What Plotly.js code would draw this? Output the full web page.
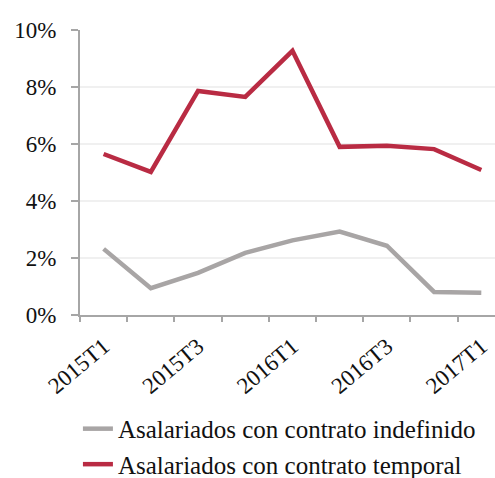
<!DOCTYPE html>
<html>
<head>
<meta charset="utf-8">
<script src="https://cdn.plot.ly/plotly-3.0.1.min.js"></script>
<style>html,body{margin:0;padding:0;background:#fff;}#chart{width:495px;height:478px;}</style>
</head>
<body>
<div id="chart"></div>
<script>
const categories = ["2015T1","2015T2","2015T3","2015T4","2016T1","2016T2","2016T3","2016T4","2017T1"];
const tickLabels = ["2015T1","2015T3","2016T1","2016T3","2017T1"];
const indefinido = [2.32, 0.94, 1.48, 2.18, 2.62, 2.93, 2.43, 0.81, 0.78];
const temporal = [5.65, 5.02, 7.86, 7.65, 9.27, 5.9, 5.94, 5.82, 5.09];
const seriesNames = ["Asalariados con contrato indefinido", "Asalariados con contrato temporal"];

const boundaries = categories.map((c, i) => i - 0.5).concat([categories.length - 0.5]);
const xRange = [-0.5, 8.29];
const font = {family: "'Liberation Serif', 'DejaVu Serif', serif", color: "#111111"};

const traces = [
  {x: categories, y: indefinido, name: seriesNames[0], type: "scatter", mode: "lines",
   line: {color: "#a8a5a5", width: 4.5}, hoverinfo: "skip"},
  {x: categories, y: temporal, name: seriesNames[1], type: "scatter", mode: "lines",
   line: {color: "#b92b43", width: 4.5}, hoverinfo: "skip"},
  {x: boundaries, y: boundaries.map(() => 0), xaxis: "x2", type: "scatter", mode: "lines",
   line: {width: 0}, opacity: 0, showlegend: false, hoverinfo: "skip"}
];

const layout = {
  width: 495, height: 478,
  margin: {l: 80, r: 0, t: 30, b: 163, pad: 0, autoexpand: false},
  paper_bgcolor: "#ffffff", plot_bgcolor: "#ffffff",
  font: Object.assign({size: 25}, font),
  showlegend: true,
  legend: {x: -0.005, xanchor: "left", y: -0.319, yanchor: "top", orientation: "v",
           font: Object.assign({size: 25}, font), bgcolor: "rgba(0,0,0,0)",
           tracegroupgap: 0, itemwidth: 30},
  xaxis: {type: "category", range: xRange, tickvals: tickLabels, ticktext: tickLabels,
          tickangle: -40, ticks: "", showline: true, linecolor: "#a6a6a6", linewidth: 2,
          showgrid: false, zeroline: false, tickfont: Object.assign({size: 23}, font),
          ticklabelstandoff: 7, automargin: false, fixedrange: true},
  xaxis2: {overlaying: "x", anchor: "y", type: "linear", range: xRange, tickvals: boundaries,
           showticklabels: false, ticks: "outside", ticklen: 6, tickwidth: 2, tickcolor: "#a6a6a6",
           showgrid: false, zeroline: false, showline: false, side: "bottom", automargin: false},
  yaxis: {range: [0, 10], dtick: 2, tick0: 0, ticksuffix: "%", ticks: "outside", ticklen: 7,
          tickwidth: 2, tickcolor: "#a6a6a6", showline: true, linecolor: "#a6a6a6", linewidth: 2,
          gridcolor: "#f0f0f0", gridwidth: 1.5, zeroline: false, ticklabelstandoff: 10,
          tickfont: Object.assign({size: 23}, font), automargin: false, fixedrange: true}
};

Plotly.newPlot("chart", traces, layout, {displayModeBar: false, staticPlot: true});
</script>
</body>
</html>
